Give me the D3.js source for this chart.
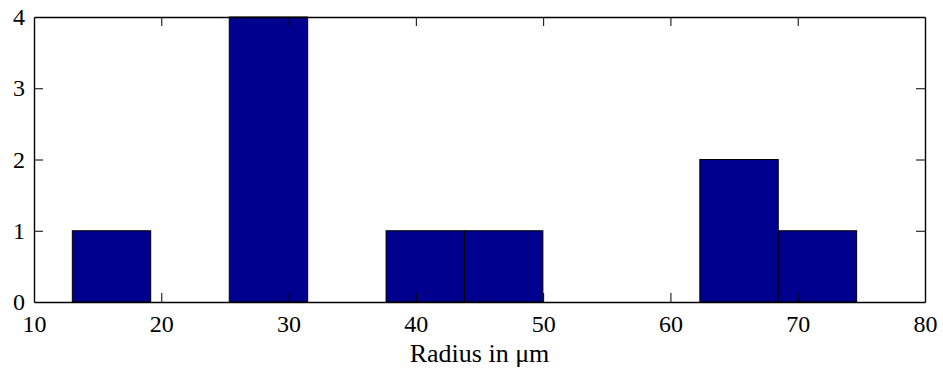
<!DOCTYPE html>
<html>
<head>
<meta charset="utf-8">
<script src="https://cdn.jsdelivr.net/npm/d3@7"></script>
<style>
  html, body { margin: 0; padding: 0; background: #fff; }
  svg { display: block; }
  text { font-family: "Liberation Serif", "Times New Roman", serif; fill: #000; }
</style>
</head>
<body>
<div id="chart"></div>
<script>
// Histogram of radii: bin centres and counts per bin
const binCenters = [16.09, 22.25, 28.42, 34.58, 40.74, 46.90, 53.06, 59.23, 65.39, 71.55];
const binCounts  = [1, 0, 4, 0, 1, 1, 0, 0, 2, 1];
const xTicks = [10, 20, 30, 40, 50, 60, 70, 80];
const yTicks = [0, 1, 2, 3, 4];
const xLabel = "Radius in \u03bcm";

const W = 943, H = 370;
const margin = { left: 34, right: 18, top: 17, bottom: 68 };
const iw = W - margin.left - margin.right;
const ih = H - margin.top - margin.bottom;

const svg = d3.select("#chart").append("svg")
  .attr("width", W).attr("height", H);

const g = svg.append("g").attr("transform", `translate(${margin.left},${margin.top})`);

const x = d3.scaleLinear().domain([10, 80]).range([0, iw]);
const y = d3.scaleLinear().domain([0, 4]).range([ih, 0]);

const binWidth = binCenters[1] - binCenters[0];

// bars
g.selectAll("rect.bar")
  .data(binCenters.map((c, i) => ({ c, n: binCounts[i] })).filter(d => d.n > 0))
  .enter().append("rect")
  .attr("class", "bar")
  .attr("x", d => x(d.c - binWidth / 2))
  .attr("width", d => x(d.c + binWidth / 2) - x(d.c - binWidth / 2))
  .attr("y", d => y(d.n))
  .attr("height", d => y(0) - y(d.n))
  .attr("fill", "#00008f")
  .attr("stroke", "#000")
  .attr("stroke-width", 1);

const tickLen = 9;
const tickFont = 24;
const labelFont = 26;
const fmt = d3.format("d");

// bottom axis with labels, inward ticks
const gx = g.append("g").attr("transform", `translate(0,${ih})`)
  .call(d3.axisBottom(x).tickValues(xTicks).tickFormat(fmt).tickSizeInner(-tickLen).tickSizeOuter(0).tickPadding(13));
// top axis, ticks only
const gxTop = g.append("g")
  .call(d3.axisTop(x).tickValues(xTicks).tickSizeInner(-tickLen).tickSizeOuter(0).tickFormat(""));
// left axis with labels
const gy = g.append("g")
  .call(d3.axisLeft(y).tickValues(yTicks).tickFormat(fmt).tickSizeInner(-tickLen).tickSizeOuter(0).tickPadding(9));
// right axis, ticks only
const gyRight = g.append("g").attr("transform", `translate(${iw},0)`)
  .call(d3.axisRight(y).tickValues(yTicks).tickSizeInner(-tickLen).tickSizeOuter(0).tickFormat(""));

[gx, gxTop, gy, gyRight].forEach(a => {
  a.attr("font-size", tickFont).attr("font-family", '"Liberation Serif", "Times New Roman", serif');
  a.select(".domain").attr("stroke", "#000").attr("stroke-width", 1.4);
  a.selectAll(".tick line").attr("stroke", "#000").attr("stroke-width", 1);
  a.selectAll(".tick text").attr("fill", "#000");
});

// remove the tick marks lying on the box corners
gx.selectAll(".tick").filter(d => d === 10 || d === 80).select("line").remove();
gxTop.selectAll(".tick").filter(d => d === 10 || d === 80).select("line").remove();
gy.selectAll(".tick").filter(d => d === 0 || d === 4).select("line").remove();
gyRight.selectAll(".tick").filter(d => d === 0 || d === 4).select("line").remove();

// x axis label
g.append("text")
  .attr("x", iw / 2)
  .attr("y", ih + 60)
  .attr("text-anchor", "middle")
  .attr("font-size", labelFont)
  .text(xLabel);
</script>
</body>
</html>
